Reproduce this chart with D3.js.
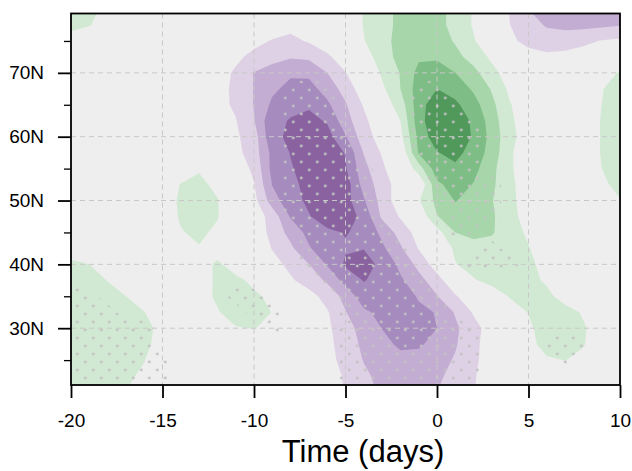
<!DOCTYPE html>
<html>
<head>
<meta charset="utf-8">
<script src="https://cdn.jsdelivr.net/npm/d3@7"></script>
<style>
body { margin: 0; background: #fff; }
text { font-family: "Liberation Sans", Arial, Helvetica, sans-serif; }
</style>
</head>
<body>
<svg width="632" height="471"></svg>
<script>
// plot box
var boxLeft = 71, boxRight = 620, boxTop = 13.5, boxBottom = 385;

// grid columns (days) and rows (latitude, north to south)
var days = [-20, -19, -18, -17, -16, -15, -14, -13, -12, -11, -10, -9, -8, -7, -6, -5,
            -4, -3, -2, -1, 0, 1, 2, 3, 4, 5, 6, 7, 8, 9, 10];
var lats = [80, 77.5, 75, 72.5, 70, 67.5, 65, 62.5, 60, 57.5, 55, 52.5, 50, 47.5, 45,
            42.5, 40, 37.5, 35, 32.5, 30, 27.5, 25, 22.5, 20];

// field values, one row per latitude
var field = [
  [1.5, 1.2, 0.8, 0.4, 0.2, 0.1, 0, -0.1, -0.2, -0.3, -0.4, -0.5, -0.5, -0.4, -0.3, 0.2, 1.1, 1.7, 2.2, 2.5, 2.3, 1.7, 0.9, 0, -1.1, -2.0, -2.5, -2.7, -2.7, -2.6, -2.5],
  [1.3, 1.05, 0.6, 0.3, 0.1, 0, -0.1, -0.2, -0.3, -0.4, -0.5, -0.6, -0.7, -0.6, -0.4, 0.1, 1.05, 1.7, 2.2, 2.5, 2.3, 1.7, 0.9, 0, -1.0, -1.6, -2.1, -2.3, -2.3, -2.2, -2.05],
  [0.5, 0.35, 0.2, 0.1, 0, -0.1, -0.2, -0.3, -0.4, -0.6, -0.8, -1.05, -1.25, -0.9, -0.4, 0.3, 0.95, 1.7, 2.3, 2.7, 2.5, 1.9, 1.1, 0.2, -0.8, -1.3, -1.5, -1.4, -1.2, -0.95, -0.8],
  [0.3, 0.2, 0.15, 0.05, 0, -0.1, -0.2, -0.35, -0.55, -0.85, -1.2, -1.6, -1.9, -1.8, -1.2, -0.4, 0.6, 1.4, 2.4, 2.85, 2.8, 2.3, 1.6, 0.8, 0, -0.6, -0.8, -0.75, -0.6, -0.4, -0.2],
  [0.2, 0.15, 0.1, 0, -0.1, -0.2, -0.3, -0.45, -0.7, -1.1, -2.05, -2.5, -2.85, -2.8, -2.0, -1.05, 0, 1.15, 2.05, 3.3, 3.7, 3.0, 2.3, 1.3, 0.5, 0, -0.3, -0.3, 0, 0.5, 1.1],
  [0.1, 0.05, 0, -0.1, -0.2, -0.3, -0.4, -0.55, -0.75, -1.15, -2.05, -2.8, -3.3, -3.35, -2.6, -1.6, -0.4, 0.8, 2.0, 3.5, 4.0, 3.6, 2.85, 1.9, 0.75, 0.3, 0, 0, 0.3, 0.95, 1.4],
  [0, -0.05, -0.1, -0.15, -0.2, -0.3, -0.4, -0.55, -0.7, -1.15, -2.05, -3.2, -3.8, -3.85, -3.2, -2.1, -0.9, 0.4, 1.45, 3.6, 4.6, 4.2, 3.4, 2.25, 1.05, 0.4, 0.1, 0.1, 0.4, 1.0, 1.5],
  [-0.05, -0.1, -0.15, -0.2, -0.25, -0.3, -0.4, -0.5, -0.7, -0.95, -1.95, -3.8, -4.05, -4.3, -3.9, -2.4, -1.25, -0.2, 1.0, 3.6, 4.8, 4.5, 3.85, 2.5, 1.15, 0.5, 0.2, 0.2, 0.5, 1.05, 1.5],
  [-0.1, -0.2, -0.2, -0.25, -0.3, -0.35, -0.4, -0.5, -0.65, -0.85, -1.5, -3.8, -4.15, -4.4, -4.4, -3.1, -1.4, -0.6, 0.7, 3.3, 4.6, 4.6, 3.9, 2.65, 1.25, 0.55, 0.25, 0.2, 0.5, 1.05, 1.5],
  [-0.15, -0.2, -0.25, -0.3, -0.3, -0.35, -0.4, -0.45, -0.55, -0.7, -1.5, -3.3, -4.05, -4.6, -4.5, -3.95, -1.95, -0.9, 0.1, 3.1, 3.95, 4.3, 3.6, 2.6, 1.1, 0.5, 0.25, 0.2, 0.5, 1.05, 1.5],
  [-0.2, -0.25, -0.3, -0.3, -0.25, -0.15, 0.3, 0.9, 0.5, -0.4, -1.2, -3.3, -3.9, -4.5, -4.6, -4.1, -2.3, -1.2, -0.1, 1.5, 3.6, 3.8, 3.3, 2.3, 1.1, 0.5, 0.25, 0.2, 0.5, 1.0, 1.5],
  [-0.25, -0.3, -0.3, -0.25, -0.1, 0.3, 1.05, 1.25, 0.75, -0.2, -0.95, -3.05, -3.7, -4.35, -4.6, -4.55, -2.6, -1.5, -0.5, 0, 2.8, 3.4, 2.95, 2.2, 1.2, 0.5, 0.2, 0.1, 0.3, 0.8, 1.3],
  [-0.3, -0.3, -0.3, -0.2, 0, 0.5, 1.15, 1.3, 1.05, 0.2, -0.7, -2.5, -3.7, -4.15, -4.5, -4.4, -3.1, -1.6, -0.4, 0.9, 2.3, 3.05, 2.6, 2.05, 1.25, 0.5, 0.15, 0, 0.1, 0.5, 0.95],
  [-0.3, -0.3, -0.3, -0.2, 0, 0.5, 1.1, 1.35, 1.05, 0.3, -0.4, -1.4, -3.1, -3.95, -4.4, -4.5, -3.7, -1.8, -0.9, 0.2, 1.95, 2.6, 2.6, 2.15, 1.3, 0.6, 0.2, 0, 0.1, 0.35, 0.6],
  [-0.3, -0.3, -0.25, -0.15, 0, 0.3, 0.95, 1.15, 0.85, 0.3, -0.35, -1.3, -2.35, -3.3, -3.85, -4.05, -3.8, -2.75, -1.6, -0.6, 0.6, 2.0, 2.3, 2.1, 1.4, 0.85, 0.3, 0.05, 0, 0.1, 0.2],
  [0.3, 0.1, -0.1, -0.1, 0, 0.15, 0.5, 0.95, 0.6, 0.3, -0.2, -1.05, -1.8, -2.9, -3.6, -3.9, -3.97, -3.2, -2.15, -0.95, 0, 1.2, 1.6, 1.6, 1.35, 1.05, 0.5, 0.1, 0, 0, 0.05],
  [1.3, 1.0, 0.5, 0.2, 0, -0.05, 0.1, 0.6, 1.15, 0.6, 0, -0.6, -1.3, -2.0, -3.1, -4.15, -4.4, -3.75, -2.75, -1.7, -0.5, 0.95, 1.4, 1.5, 1.4, 1.25, 0.6, 0.1, 0, -0.05, -0.05],
  [1.4, 1.25, 0.98, 0.6, 0.3, 0.1, 0.2, 0.55, 1.15, 1.2, 0.8, 0.3, -0.85, -1.5, -2.15, -3.4, -4.05, -3.7, -3.15, -2.35, -1.4, -0.2, 0.9, 1.4, 1.45, 1.3, 0.85, 0.3, 0.05, -0.05, -0.1],
  [1.5, 1.4, 1.25, 1.0, 0.7, 0.4, 0.5, 0.75, 1.1, 1.25, 1.15, 0.8, 0.1, -0.6, -1.4, -2.3, -3.6, -3.7, -3.5, -2.9, -2.05, -1.1, -0.3, 0.3, 1.1, 1.3, 1.25, 0.6, 0.2, 0, -0.1],
  [1.6, 1.55, 1.45, 1.3, 1.02, 0.6, 0.5, 0.8, 0.95, 1.3, 1.3, 0.98, 0.5, 0, -0.9, -1.95, -2.8, -3.3, -3.4, -3.2, -2.95, -1.9, -0.9, -0.2, 0.4, 1.05, 1.4, 1.35, 0.9, 0.3, 0],
  [1.6, 1.6, 1.5, 1.4, 1.2, 0.8, 0.5, 0.5, 0.7, 0.95, 1.03, 0.8, 0.4, 0, -0.8, -1.6, -2.4, -3.02, -3.3, -3.35, -3.0, -2.2, -1.3, -0.6, 0.1, 0.8, 1.5, 1.45, 1.1, 0.5, 0.1],
  [1.5, 1.5, 1.45, 1.35, 1.15, 0.75, 0.4, 0.3, 0.3, 0.4, 0.5, 0.45, 0.3, 0, -0.7, -1.5, -2.2, -2.75, -3.15, -3.1, -2.75, -2.1, -1.25, -0.5, 0.1, 0.75, 1.3, 1.3, 1.05, 0.5, 0.1],
  [1.4, 1.4, 1.35, 1.25, 1.02, 0.6, 0.3, 0.15, 0.1, 0.1, 0.1, 0.1, 0.05, -0.1, -0.7, -1.3, -2.05, -2.5, -2.75, -2.75, -2.4, -1.9, -1.2, -0.5, 0, 0.4, 0.9, 1.02, 0.8, 0.4, 0.1],
  [1.3, 1.3, 1.25, 1.1, 0.9, 0.5, 0.2, 0.05, 0, 0, 0, 0, 0, -0.15, -0.6, -1.1, -1.8, -2.3, -2.5, -2.45, -2.15, -1.75, -1.1, -0.45, 0, 0.2, 0.4, 0.45, 0.4, 0.2, 0.05],
  [1.2, 1.2, 1.15, 1.0, 0.75, 0.4, 0.1, 0, -0.05, -0.05, -0.05, -0.05, -0.05, -0.2, -0.6, -1.05, -1.7, -2.15, -2.35, -2.3, -2.0, -1.6, -1.05, -0.4, 0, 0.1, 0.2, 0.2, 0.2, 0.1, 0]
];

// stippled (significant) runs: [lat, first day, last day]
var sigRuns = [
  [67.5, -8, -6], [67.5, -1, 0],
  [65, -8, -6], [65, -1, 1],
  [62.5, -8, -5], [62.5, -1, 2],
  [60, -8, -5], [60, -1, 2],
  [57.5, -8, -5], [57.5, -1, 2],
  [55, -8, -4], [55, 0, 2],
  [52.5, -8, -4], [52.5, 0, 3],
  [50, -8, -4], [50, 1, 3],
  [47.5, -8, -4], [47.5, 1, 3],
  [45, -7, -3], [45, 1, 2],
  [42.5, -7, -2], [42.5, 3, 3],
  [40, -7, -2], [40, 2, 4],
  [37.5, -6, -1],
  [35, -20, -19], [35, -11, -10], [35, -5, 0],
  [32.5, -20, -18], [32.5, -10, -9], [32.5, -5, 0],
  [30, -20, -16], [30, -9, -9], [30, -5, 2],
  [27.5, -20, -16], [27.5, -5, 2], [27.5, 6, 8],
  [25, -20, -15], [25, -5, 2], [25, 7, 7],
  [22.5, -20, -15], [22.5, -5, 2],
  [20, -20, -16], [20, -5, 2]
];

var levels = [1, 2, 3, 4];
var purpleFills = ["#dfd1e5", "#c4add3", "#a68bbf", "#89629f"];
var greenFills = ["#d1e9d3", "#a7d6aa", "#7ebd85", "#51985b"];

var xTicks = [-20, -15, -10, -5, 0, 5, 10];
var yTicks = [30, 40, 50, 60, 70];
var yMinor = [25, 35, 45, 55, 65, 75];

var svg = d3.select("svg");

var xScale = d3.scaleLinear().domain([-20, 10]).range([boxLeft, boxRight]);
var yScale = d3.scaleLinear().domain([21.1, 79.3]).range([boxBottom, boxTop]);

var nx = days.length, ny = lats.length;
var flat = [].concat.apply([], field);

// d3.contours puts sample i at i + 0.5
var toPx = d3.geoTransform({
  point: function(cx, cy) {
    var t = days[0] + (cx - 0.5) * (days[1] - days[0]);
    var lat = lats[0] + (cy - 0.5) * (lats[1] - lats[0]);
    this.stream.point(xScale(t), yScale(lat));
  }
});
var path = d3.geoPath(toPx);

var defs = svg.append("defs");
defs.append("clipPath").attr("id", "box")
  .append("rect")
    .attr("x", boxLeft).attr("y", boxTop)
    .attr("width", boxRight - boxLeft).attr("height", boxBottom - boxTop);

var pat = defs.append("pattern")
    .attr("id", "stip")
    .attr("patternUnits", "userSpaceOnUse")
    .attr("x", 73.3).attr("y", 14)
    .attr("width", 16).attr("height", 16);
pat.selectAll("circle")
  .data([[4, 4], [12, 12]])
  .enter().append("circle")
    .attr("cx", d => d[0]).attr("cy", d => d[1])
    .attr("r", 1.4)
    .attr("fill", "#c2c2c2");

var plot = svg.append("g").attr("clip-path", "url(#box)");

plot.append("rect")
    .attr("x", boxLeft).attr("y", boxTop)
    .attr("width", boxRight - boxLeft).attr("height", boxBottom - boxTop)
    .attr("fill", "#eeeeee");

var contours = d3.contours().size([nx, ny]).thresholds(levels);

plot.append("g").selectAll("path")
  .data(contours(flat.map(v => -v)))
  .enter().append("path")
    .attr("d", path)
    .attr("fill", (d, i) => purpleFills[i]);

plot.append("g").selectAll("path")
  .data(contours(flat))
  .enter().append("path")
    .attr("d", path)
    .attr("fill", (d, i) => greenFills[i]);

// significance mask -> stipple
var mask = flat.map(() => 0);
sigRuns.forEach(function(r) {
  var j = lats.indexOf(r[0]);
  for (var t = r[1]; t <= r[2]; t++) mask[j * nx + days.indexOf(t)] = 1;
});
plot.append("g").selectAll("path")
  .data(d3.contours().size([nx, ny]).thresholds([0.5])(mask))
  .enter().append("path")
    .attr("d", path)
    .attr("fill", "url(#stip)");

// dashed grid
plot.append("g").selectAll("line")
  .data(xTicks.slice(1, -1))
  .enter().append("line")
    .attr("x1", d => xScale(d)).attr("x2", d => xScale(d))
    .attr("y1", boxTop).attr("y2", boxBottom)
    .attr("stroke", "#c8c8c8").attr("stroke-width", 1)
    .attr("stroke-dasharray", "5,4");
plot.append("g").selectAll("line")
  .data(yTicks)
  .enter().append("line")
    .attr("y1", d => yScale(d)).attr("y2", d => yScale(d))
    .attr("x1", boxLeft).attr("x2", boxRight)
    .attr("stroke", "#c8c8c8").attr("stroke-width", 1)
    .attr("stroke-dasharray", "5,4");

// axes
var xAxis = d3.axisBottom(xScale)
    .tickValues(xTicks).tickSize(13).tickSizeOuter(0).tickPadding(16)
    .tickFormat(d => String(d));
var yAxis = d3.axisLeft(yScale)
    .tickValues(yTicks).tickSize(13).tickSizeOuter(0).tickPadding(14)
    .tickFormat(d => d + "N");
var yAxisMinor = d3.axisLeft(yScale)
    .tickValues(yMinor).tickSize(7).tickSizeOuter(0).tickFormat("");

var gx = svg.append("g")
    .attr("transform", "translate(0," + boxBottom + ")")
    .call(xAxis);
var gy = svg.append("g")
    .attr("transform", "translate(" + boxLeft + ",0)")
    .call(yAxis);
var gym = svg.append("g")
    .attr("transform", "translate(" + boxLeft + ",0)")
    .call(yAxisMinor);

[gx, gy, gym].forEach(function(g) {
  g.select(".domain").remove();
  g.selectAll("line").attr("stroke", "#000").attr("stroke-width", 1.8);
  g.selectAll("text").attr("fill", "#000").style("font-size", "19px")
    .style("font-family", "'Liberation Sans', Arial, sans-serif");
});
gym.selectAll("line").attr("stroke-width", 1.3);

svg.append("rect")
    .attr("x", boxLeft).attr("y", boxTop)
    .attr("width", boxRight - boxLeft).attr("height", boxBottom - boxTop)
    .attr("fill", "none")
    .attr("stroke", "#000")
    .attr("stroke-width", 1.8);

svg.append("text")
    .attr("x", 363)
    .attr("y", 462)
    .attr("text-anchor", "middle")
    .style("font-size", "31px")
    .text("Time (days)");
</script>
</body>
</html>
